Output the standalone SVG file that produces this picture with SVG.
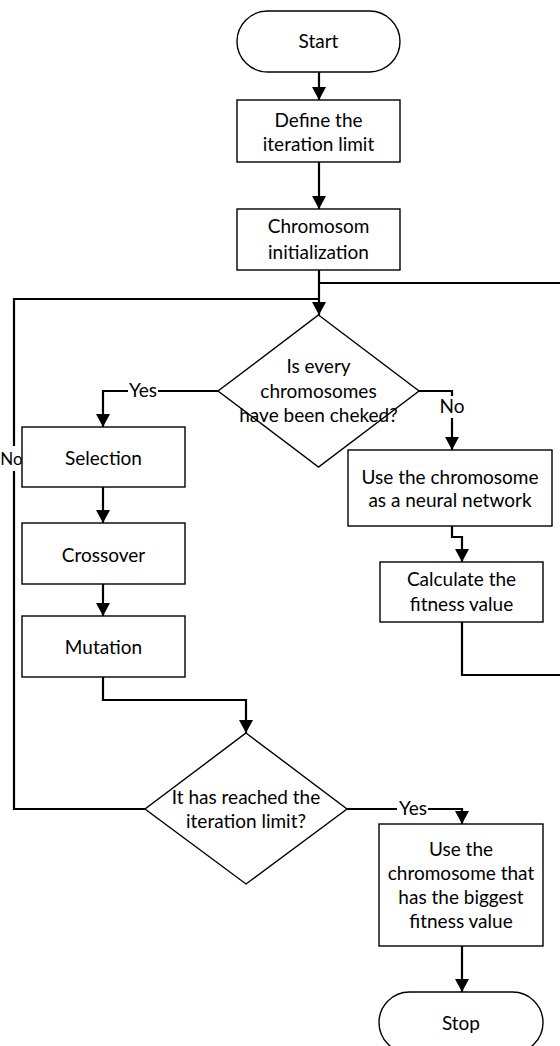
<svg xmlns="http://www.w3.org/2000/svg" width="560" height="1046" viewBox="0 0 560 1046">
<style>
.shape{fill:#ffffff;stroke:#000000;stroke-width:1.4}
.conn{fill:none;stroke:#000000;stroke-width:2.2}
.arr{marker-end:url(#ah)}
text{font-family:Lato,"Liberation Sans",sans-serif;font-size:19px;fill:#000000;text-anchor:middle}
.small{font-size:17px}
</style>
<defs>
<marker id="ah" markerUnits="userSpaceOnUse" markerWidth="14" markerHeight="14" refX="13" refY="7" orient="auto">
<path d="M0,0 L13,7 L0,14 Z" fill="#000000"/>
</marker>
</defs>
<g id="connectors">
<path class="conn arr" d="M319,72 V100"/>
<path class="conn arr" d="M319,162 V209"/>
<path class="conn arr" d="M319,270 V315"/>
<path class="conn" d="M462,622 V675 H580 V283 H319"/>
<path class="conn" d="M145,809 H14 V471"/>
<path class="conn" d="M14,446 V299 H319"/>
<path class="conn" d="M218,391 H158"/>
<path class="conn arr" d="M128,391 H103 V427"/>
<path class="conn" d="M419,391 H452 V396"/>
<path class="conn arr" d="M452,418 V450"/>
<path class="conn arr" d="M103,487 V523"/>
<path class="conn arr" d="M103,584 V616"/>
<path class="conn arr" d="M103,677 V700 H246 V733"/>
<path class="conn arr" d="M452,526 V537 H462 V562"/>
<path class="conn" d="M347,809 H397"/>
<path class="conn arr" d="M428,809 H462 V824"/>
<path class="conn arr" d="M462,946 V992"/>
<text x="143" y="397">Yes</text>
<text x="452" y="413">No</text>
<text class="small" x="11.5" y="465">No</text>
<text x="413" y="815">Yes</text>
</g>
<g id="start">
<rect class="shape" x="237" y="11" width="163" height="61" rx="30.5" ry="30.5"/>
<text x="318.5" y="48">Start</text>
</g>
<g id="define">
<rect class="shape" x="237" y="100" width="163" height="62"/>
<text x="318.5" y="127">Define the</text>
<text x="318.5" y="151">iteration limit</text>
</g>
<g id="init">
<rect class="shape" x="237" y="209" width="163" height="61"/>
<text x="318.5" y="233">Chromosom</text>
<text x="318.5" y="259">initialization</text>
</g>
<g id="check">
<polygon class="shape" points="318.5,315 419,391 318.5,467 218,391"/>
<text x="318.5" y="373">Is every</text>
<text x="318.5" y="398">chromosomes</text>
<text x="318.5" y="422">have been cheked?</text>
</g>
<g id="selection">
<rect class="shape" x="22" y="427" width="163" height="60"/>
<text x="103.5" y="465">Selection</text>
</g>
<g id="crossover">
<rect class="shape" x="22" y="523" width="163" height="61"/>
<text x="103.5" y="562">Crossover</text>
</g>
<g id="mutation">
<rect class="shape" x="22" y="616" width="163" height="61"/>
<text x="103.5" y="654">Mutation</text>
</g>
<g id="usenn">
<rect class="shape" x="348" y="450" width="204" height="76"/>
<text x="450" y="484">Use the chromosome</text>
<text x="450" y="507">as a neural network</text>
</g>
<g id="fitness">
<rect class="shape" x="380" y="562" width="163" height="60"/>
<text x="461.5" y="586">Calculate the</text>
<text x="461.5" y="611">fitness value</text>
</g>
<g id="limit">
<polygon class="shape" points="246,733 347,809 246,884 145,809"/>
<text x="246" y="804">It has reached the</text>
<text x="246" y="828">iteration limit?</text>
</g>
<g id="best">
<rect class="shape" x="379" y="824" width="164" height="122"/>
<text x="461" y="856">Use the</text>
<text x="461" y="880">chromosome that</text>
<text x="461" y="904">has the biggest</text>
<text x="461" y="928">fitness value</text>
</g>
<g id="stop">
<rect class="shape" x="379" y="992" width="164" height="61" rx="30.5" ry="30.5"/>
<text x="461" y="1030">Stop</text>
</g>
</svg>
